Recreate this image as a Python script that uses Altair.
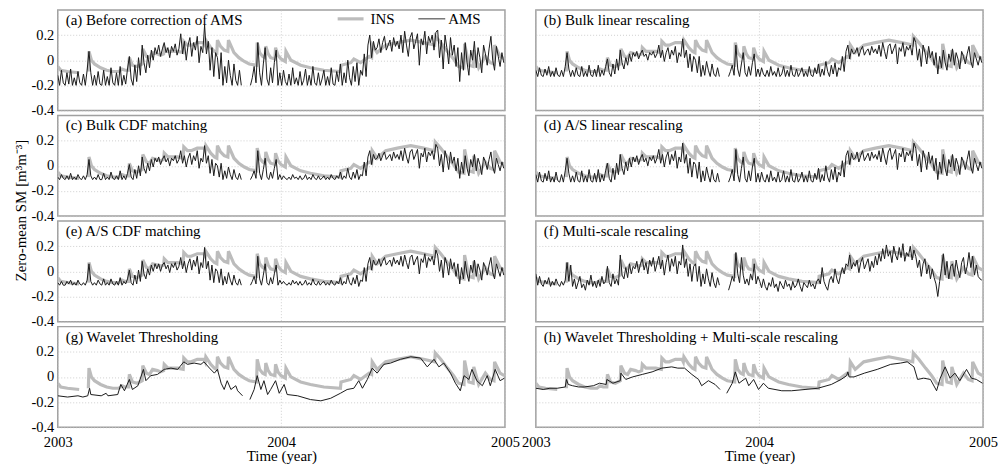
import altair as alt
import pandas as pd

# ---------------- data (soil moisture anomalies, hundredths of m3/m3) ----------------
START = "2003-01-01"
year_ticks = [2003, 2004, 2005]
y_ticks = [-0.4, -0.2, 0, 0.2]

panel_labels = [
    "(a) Before correction of AMS",
    "(b) Bulk linear rescaling",
    "(c) Bulk CDF matching",
    "(d) A/S linear rescaling",
    "(e) A/S CDF matching",
    "(f) Multi-scale rescaling",
    "(g) Wavelet Thresholding",
    "(h) Wavelet Thresholding + Multi-scale rescaling",
]

# in-situ (INS) series: day since 2003-01-01, value (None = gap)
ins_day = [0, 5, 16, 35, 42, 50, 51, 55, 60, 70, 80, 90, 100, 105, 110, 116, 117, 122, 130, 138,
           139, 145, 150, 155, 163, 168, 173, 174, 180, 185, 196, 205, 206, 212, 218, 228, 239, 241, 242, 250,
           256, 260, 261, 266, 272, 278, 279, 288, 296, 305, 313, 325, 326, 330, 335, 339, 340, 344, 348, 355,
           356, 360, 365, 372, 373, 381, 397, 413, 435, 462, 463, 479, 484, 495, 509, 513, 514, 522, 536, 555,
           577, 598, 616, 617, 626, 637, 647, 655, 664, 665, 672, 679, 680, 688, 699, 707, 713, 714, 723, 730]
ins_val = [-5, -8, -9, -10, None, -9, 7, 0, -3, -6, -8, -9, -9, -7, -8, -8, 2, -4, -5, -3,
           9, 3, 2, 6, 5, 4, 5, 10, 7, 7, 7, 6, 15, 12, 12, 14, 14, 12, 16, 10,
           7, 6, 16, 11, 8, 7, 16, 6, 2, -1, -3, -4, 14, 6, 3, 2, 11, 5, 2, 1,
           10, 4, 1, -1, 7, 0, -4, -6, -8, -9, -4, -2, 1, -2, 3, 2, 12, 6, 12, 14,
           16, 14, 12, 19, 14, 7, 1, -5, -6, 13, -4, -5, 8, -6, 3, -2, -3, 12, 3, 1]

# AMS series for panels (a)-(f): one value every 3 days from 2003-01-01
ams_step = 3
ams_a = [-12, -20, -8, -18, -20, -10, -19, -7, -20, -14, -20, -9, -18, -20, -11, -20, -8,
         7,
         -10, -20, -12, -20, -9, -19, -20, -8, -20, -13, -20, -6, -18, -20, -10, -20,
         -5, -20, -12, -19, -7, 3, -15, -20, -4, -17, 2, -12,
         12, -2, -10, 4, -6, 8, 0, 10,
         5, 12, 3, 9, 14, 6, 10, 2, 11, 7, 13, 4, 9,
         21, 5, 15, 0, 12, 18, 3, 14, 8, 19, -2, 11, 6,
         28, 5, 15, -8, 10, -13, 6,
         2, -15, 6, -20, -5, -18, 0, -12, -20, -3, -16, -20, -8, -20,
         None, None, None, None,
         -20, -14, -5, -18, 14, -10, -20, -3, 10, -15, -20, -6, -18, -2, 8, -20, -10,
         -20, -8, -17, -20, -11, -20, -6, -19, -14, -20, -9, -20, -16, -7, -20, -12,
         -20, -5, -18, -20, -10, -20, -15, -8, -20, -13, -20, -6, -19, -20, -9, -17,
         -3, -20, -10, -18, 0, -14, -20, -5, -17, -2, -20, -8, -12,
         5, -13, 12, 20, 2, 15, 8,
         10, 17, 6, 14, 19, 8, 12, 16, 7, 18, 11, 15, 9,
         20, 6, 23, 12, 3, 18, 22, 9, 15, 21, -4, 17, 12, 23, 5, 19, 14, 20, 8, 22,
         24, 2, 16, -7, 20, 10, -3, 18, 4, 12,
         -5, 10, -17, 6, -8, 14, -2, -12, 8, 0,
         15, -6, 10, 2, -10, 12, 5, -4, 9, 19, 0, -8, 11, 3, -5, 6, -2]
ams_b = [-8, -13, -6, -12, -13, -7, -12, -5, -13, -9, -13, -6, -12, -13, -8, -13, -5,
         6,
         -7, -13, -8, -13, -6, -12, -13, -5, -13, -9, -13, -4, -12, -13, -7, -13,
         -4, -13, -8, -12, -5, 1, -10, -13, -3, -11, 1, -8,
         8, -2, -7, 2, -4, 5, -1, 6,
         3, 7, 1, 5, 8, 3, 5, 0, 6, 4, 7, 2, 5,
         12, 2, 8, -1, 6, 10, 1, 8, 4, 11, -2, 6, 3,
         17, 2, 8, -6, 5, -9, 3,
         0, -10, 3, -13, -4, -12, -1, -8, -13, -3, -11, -13, -6, -13,
         None, None, None, None,
         -13, -9, -4, -12, 12, -7, -13, -3, 6, -10, -13, -5, -12, -2, 5, -13, -7,
         -13, -6, -11, -13, -8, -13, -5, -12, -9, -13, -6, -13, -11, -5, -13, -8,
         -13, -4, -12, -13, -7, -13, -10, -6, -13, -9, -13, -5, -12, -13, -6, -11,
         -3, -13, -7, -12, -1, -9, -13, -4, -11, -2, -13, -6, -8,
         3, -9, 7, 12, 1, 9, 5,
         6, 10, 3, 8, 11, 4, 7, 9, 4, 11, 6, 9, 5,
         12, 3, 14, 7, 1, 11, 13, 5, 9, 13, -3, 10, 7, 14, 3, 11, 8, 12, 4, 18,
         14, 0, 9, -5, 12, 6, -3, 11, 2, 7,
         -4, 6, -11, 3, -6, 8, -2, -8, 5, -1,
         9, -4, 6, 1, -7, 7, 3, -3, 5, 11, -1, -6, 6, 1, -4, 3, -2]
ams_c = [-9, -11, -7, -10, -11, -8, -11, -6, -11, -9, -11, -7, -10, -11, -8, -11, -7,
         5,
         -8, -11, -9, -11, -7, -11, -11, -6, -11, -9, -11, -5, -10, -11, -8, -11,
         -4, -11, -8, -11, -6, 1, -9, -11, -3, -10, 0, -8,
         7, -2, -6, 2, -4, 5, -1, 6,
         3, 7, 1, 5, 8, 3, 6, 0, 6, 4, 8, 2, 5,
         12, 2, 8, -1, 6, 10, 1, 8, 4, 12, -2, 6, 3,
         16, 2, 8, -6, 5, -8, 2,
         0, -9, 2, -11, -4, -10, -1, -7, -11, -3, -9, -11, -6, -11,
         None, None, None, None,
         -11, -8, -4, -10, 12, -6, -11, -3, 6, -9, -11, -5, -10, -2, 5, -11, -7,
         -11, -8, -10, -11, -9, -11, -7, -10, -9, -11, -8, -11, -10, -7, -11, -9,
         -11, -7, -10, -11, -8, -11, -10, -8, -11, -9, -11, -7, -10, -11, -8, -10,
         -5, -11, -8, -10, -2, -9, -11, -5, -10, -3, -11, -7, -8,
         3, -8, 7, 12, 1, 9, 5,
         6, 10, 4, 8, 11, 5, 7, 9, 4, 11, 6, 9, 5,
         12, 4, 14, 7, 2, 11, 13, 5, 9, 13, -2, 10, 7, 14, 3, 11, 8, 12, 5, 17,
         14, 0, 9, -5, 12, 6, -3, 11, 2, 7,
         -4, 6, -10, 3, -6, 8, -2, -8, 5, -1,
         9, -4, 6, 1, -7, 7, 3, -3, 5, 11, -1, -6, 6, 1, -4, 3, -2]
ams_d = [-7, -13, -5, -12, -13, -6, -12, -4, -13, -9, -13, -5, -12, -13, -7, -13, -4,
         6,
         -6, -13, -8, -13, -5, -12, -13, -4, -13, -8, -13, -3, -12, -13, -6, -13,
         -3, -13, -7, -12, -4, 2, -10, -13, -2, -11, 2, -7,
         9, -2, -7, 3, -4, 6, -1, 7,
         3, 8, 1, 6, 9, 3, 6, 0, 7, 4, 8, 2, 6,
         13, 2, 9, -1, 7, 11, 1, 9, 4, 12, -2, 7, 3,
         18, 2, 9, -6, 6, -9, 3,
         1, -10, 3, -13, -4, -12, -1, -8, -13, -3, -11, -13, -6, -13,
         None, None, None, None,
         -13, -9, -3, -12, 13, -7, -13, -2, 7, -10, -13, -4, -12, -1, 6, -13, -6,
         -13, -5, -11, -13, -7, -13, -4, -12, -9, -13, -5, -13, -11, -4, -13, -8,
         -13, -3, -12, -13, -6, -13, -10, -5, -13, -8, -13, -4, -12, -13, -6, -11,
         -2, -13, -7, -12, 0, -9, -13, -3, -11, -1, -13, -5, -8,
         4, -9, 8, 12, 1, 10, 5,
         6, 11, 3, 8, 12, 4, 7, 10, 4, 11, 6, 9, 5,
         12, 3, 14, 7, 1, 11, 14, 5, 9, 13, -3, 10, 7, 14, 3, 11, 8, 12, 4, 18,
         14, 0, 9, -5, 12, 6, -3, 11, 2, 8,
         -4, 6, -11, 3, -6, 9, -2, -8, 5, -1,
         9, -4, 6, 1, -7, 7, 3, -3, 5, 12, -1, -6, 6, 1, -4, 3, -2]
ams_e = [-9, -11, -8, -11, -11, -8, -10, -7, -11, -9, -11, -7, -10, -11, -9, -11, -7,
         6,
         -8, -11, -9, -11, -7, -10, -11, -6, -11, -9, -11, -6, -10, -11, -8, -11,
         -5, -11, -8, -10, -6, 1, -9, -11, -3, -10, 1, -8,
         8, -2, -6, 2, -3, 5, 0, 6,
         2, 6, 0, 5, 7, 2, 5, -1, 6, 3, 7, 1, 4,
         11, 2, 8, -1, 6, 10, 1, 9, 4, 12, -2, 7, 3,
         19, 2, 8, -7, 5, -9, 2,
         0, -9, 2, -11, -4, -10, -1, -7, -11, -3, -9, -11, -6, -11,
         None, None, None, None,
         -11, -8, -4, -10, 12, -6, -11, -3, 6, -9, -11, -5, -10, -2, 5, -11, -7,
         -10, -8, -10, -11, -9, -11, -7, -10, -8, -11, -8, -11, -10, -7, -11, -9,
         -11, -6, -10, -11, -8, -11, -9, -8, -11, -9, -11, -7, -10, -11, -8, -10,
         -5, -11, -8, -10, -3, -9, -11, -5, -10, -3, -12, -7, -8,
         3, -8, 6, 11, 1, 9, 5,
         6, 10, 4, 8, 11, 5, 7, 9, 4, 11, 6, 9, 5,
         12, 4, 13, 7, 2, 11, 13, 5, 9, 12, -2, 10, 7, 14, 3, 11, 8, 12, 5, 17,
         13, 0, 9, -5, 11, 6, -3, 10, 2, 7,
         -4, 6, -10, 3, -6, 8, -2, -8, 5, -1,
         9, -4, 6, 1, -7, 7, 3, -3, 5, 11, -1, -6, 6, 1, -4, 3, -3]
ams_f = [-2, -11, -4, -10, -12, -7, -10, -5, -12, -8, -11, -6, -10, -12, -8, -11, -7,
         7,
         -8, 5, -12, -6, -14, -9, -4, -13, -10, -15, -7, -11, -3, -12, -8, -13,
         -7, -12, -4, -10, -8, 4, -9, -12, -2, -10, -6, -11,
         13, -3, -6, 3, -5, 6, -2, 4,
         2, 8, -1, 6, 10, 1, 7, -2, 9, 4, 11, 0, 6,
         12, 2, 9, -3, 7, 13, 0, 10, 4, 12, -2, 8, 5,
         21, 3, 10, -4, 6, -8, 4,
         6, -8, 4, -12, -2, -10, 2, -6, -12, -1, -9, -13, -5, -11,
         None, None, None, None,
         -15, -10, -4, -8, 15, -2, -9, 11, -3, -10, -6, -11, -2, -7, 6, -10, -4,
         -8, -13, -6, -12, -15, -9, -12, -5, -13, -10, -16, -8, -11, -14, -7, -12,
         -10, -15, -8, -13, -11, -6, -12, -16, -9, -11, -13, -7, -12, -10, -14, -8,
         -6, -10, 3, -8, -12, -15, -7, -4, -9, 2, -6, -10, -3,
         3, -2, 6, 4, 13, 2, 7,
         4, 9, -1, 7, 11, 2, 6, 10, 0, 8, 3, 12, 5,
         14, 8, 18, 10, 21, 12, 16, 7, 20, 13, 9, 19, 11, 22, 8, 15, 12, 20, 9, 17,
         12, 3, 9, -4, 6, 10, -2, 5, -6, 2,
         -5, -10, -20, -8, 2, 14, -3, 8, -6, 4,
         6, -4, 9, 1, -5, 7, 11, -2, 4, 15, 3, 12, -3, 5, -4, -6, -7]

# AMS after wavelet thresholding (g) and WT + multi-scale rescaling (h)
g_day = [0, 16, 33, 41, 49, 52, 54, 71, 79, 82, 98, 103, 109, 117, 122, 131, 140, 144, 152, 163,
         174, 185, 196, 206, 212, 223, 234, 239, 248, 256, 261, 267, 272, 277, 283, 291, 294, 302, 308, 314,
         321, 326, 332, 337, 343, 348, 356, 362, 370, 375, 392, 413, 430, 446, 462, 473, 484, 492, 498, 506,
         514, 522, 533, 544, 560, 577, 593, 604, 615, 623, 631, 642, 650, 658, 664, 672, 677, 685, 694, 702,
         707, 715, 723, 730]
g_val = [-15, -16, -15, -16, -15, -9, -14, -15, -13, -15, -14, -6, -11, -2, -10, -7, 6, -3, 1, 2,
         6, 7, 6, 12, 10, 11, 10, 12, 7, 3, 6, -5, -10, -3, -10, -7, -11, -15, None, -18,
         -10, 1, -10, -3, -14, -10, -3, -13, -6, -14, -15, -18, -19, -17, -13, -10, -9, -3, -9, -2,
         7, 3, 10, 11, 14, 16, 15, 8, 14, 8, 11, 3, -5, -11, 1, -2, 6, -3, -7, 1,
         -7, 6, -3, -1]
h_day = [0, 12, 23, 35, 48, 50, 53, 60, 70, 79, 94, 104, 115, 116, 126, 138, 139, 147, 158, 174,
         190, 206, 222, 232, 243, 255, 266, 271, 282, 293, 301, 306, 312, 321, 326, 332, 343, 348, 356, 364,
         372, 380, 402, 418, 440, 461, 483, 499, 508, 510, 512, 520, 537, 558, 580, 596, 607, 618, 624, 634,
         645, 655, 661, 669, 677, 685, 693, 704, 712, 720, 730]
h_val = [-9, -10, -9, -9, -8, -2, -6, -7, -8, -8, -7, -5, -6, -2, -5, -3, 3, -2, 0, 2,
         4, 7, 8, 7, 7, 2, -2, -7, -3, -6, -10, None, -13, -5, 4, -5, -1, -7, -2, -10,
         -5, -9, -11, -11, -10, -9, -6, -2, 1, 4, 0, 0, 3, 6, 10, 11, 12, 8, -2, -1,
         -2, -11, -1, 8, -1, 3, -3, 6, -1, -2, -5]


# ---------------- helpers ----------------
def to_frame(days, vals):
    rows, seg = [], 0
    t0 = pd.Timestamp(START)
    for d, v in zip(days, vals):
        if v is None:
            seg += 1
            continue
        rows.append({"date": (t0 + pd.Timedelta(days=d)).strftime("%Y-%m-%dT00:00:00"),
                     "sm": v / 100.0, "seg": seg})
    return pd.DataFrame(rows)


def stepped(vals):
    return to_frame([i * ams_step for i in range(len(vals))], vals)


ins_df = to_frame(ins_day, ins_val)
ams_frames = [stepped(ams_a), stepped(ams_b), stepped(ams_c), stepped(ams_d),
              stepped(ams_e), stepped(ams_f), to_frame(g_day, g_val), to_frame(h_day, h_val)]

FONT = "Liberation Serif"
GRID = dict(grid=True, gridColor="#c2c2c2", gridDash=[1, 2], gridWidth=0.8)
X_DOMAIN = [alt.DateTime(year=year_ticks[0], month=1, date=1),
            alt.DateTime(year=year_ticks[-1], month=1, date=1)]
X_VALUES = [alt.DateTime(year=y, month=1, date=1) for y in year_ticks]
INS_COLOR, AMS_COLOR = "#bcbcbc", "#1a1a1a"
PW, PH = 449, 101


def panel(idx):
    left = idx % 2 == 0
    bottom = idx >= 6
    xk = dict(values=X_VALUES, format="%Y", labels=bottom, ticks=False, domain=False,
              labelFlush=False, labelPadding=8, titlePadding=0, **GRID)
    xk["title"] = "Time (year)" if bottom else None
    yk = dict(values=y_ticks, labels=left, ticks=False, domain=False, labelPadding=4,
              labelExpr="datum.value == 0 ? '0' : '' + datum.value", **GRID)
    if idx == 2:
        yk.update(title="Zero-mean SM [m³m⁻³]", titleX=-32, titleY=95, titleAngle=270,
                  titleAlign="center", titleBaseline="alphabetic")
    else:
        yk["title"] = None
    ex = alt.X("date:T", scale=alt.Scale(domain=X_DOMAIN), axis=alt.Axis(**xk))
    ey = alt.Y("sm:Q", scale=alt.Scale(domain=[-0.4, 0.4], nice=False, zero=False),
               axis=alt.Axis(**yk))
    ins = alt.Chart(ins_df).mark_line(color=INS_COLOR, strokeWidth=3.2, clip=True).encode(
        x=ex, y=ey, detail="seg:N")
    ams = alt.Chart(ams_frames[idx]).mark_line(color=AMS_COLOR, strokeWidth=1.0, clip=True).encode(
        x=ex, y=ey, detail="seg:N")
    lab = alt.Chart(alt.Data(values=[{"label": panel_labels[idx]}])).mark_text(
        align="left", baseline="alphabetic", font=FONT, fontSize=15, color="black").encode(
        x=alt.value(8), y=alt.value(15), text="label:N")
    layers = [ins, ams, lab]
    if idx == 0:
        one = alt.Data(values=[{"k": 1}])
        layers += [
            alt.Chart(one).mark_rule(color=INS_COLOR, strokeWidth=3.2).encode(
                x=alt.value(281), x2=alt.value(307), y=alt.value(9)),
            alt.Chart(one).mark_text(text="INS", align="left", baseline="alphabetic", font=FONT,
                                     fontSize=15, color="black").encode(x=alt.value(314), y=alt.value(14)),
            alt.Chart(one).mark_rule(color=AMS_COLOR, strokeWidth=0.9).encode(
                x=alt.value(362), x2=alt.value(389), y=alt.value(9)),
            alt.Chart(one).mark_text(text="AMS", align="left", baseline="alphabetic", font=FONT,
                                     fontSize=15, color="black").encode(x=alt.value(392), y=alt.value(14)),
        ]
    return alt.layer(*layers).properties(width=PW, height=PH)


chart = alt.concat(*[panel(i) for i in range(8)], columns=2,
                   spacing={"row": 5, "column": 31}, bounds="flush").properties(
    padding={"left": 13, "top": 8, "right": 0, "bottom": 0}
).configure(font=FONT).configure_view(
    stroke="#a0a0a0", strokeWidth=1.5
).configure_axis(
    labelFont=FONT, titleFont=FONT, labelFontSize=14.5, titleFontSize=15,
    labelColor="black", titleColor="black", titleFontWeight="normal"
)

chart.save("out.html", embed_options={"renderer": "svg", "actions": False})
